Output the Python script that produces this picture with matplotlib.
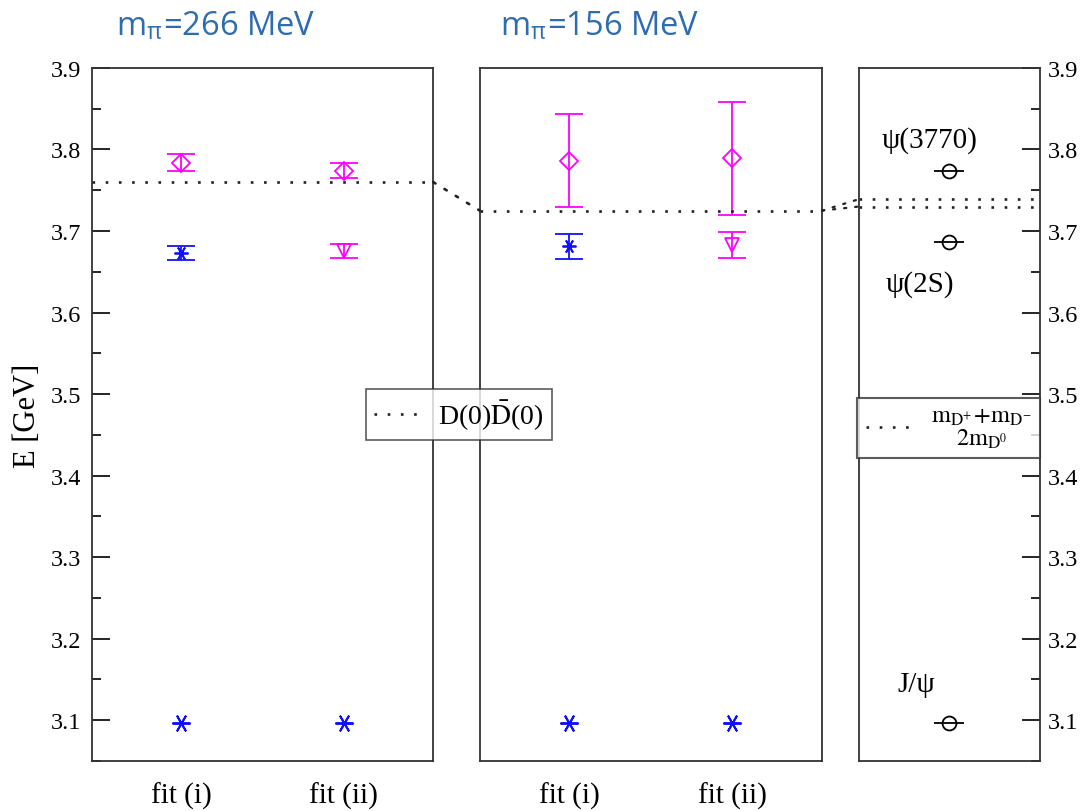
import matplotlib
matplotlib.use('Agg')
import matplotlib.pyplot as plt
from matplotlib.patches import ConnectionPatch
from matplotlib.lines import Line2D
from matplotlib.ticker import MultipleLocator

plt.rcParams['font.family'] = ['Liberation Serif', 'DejaVu Serif']
plt.rcParams['mathtext.fontset'] = 'stix'

# data (GeV)
fits = ['fit (i)', 'fit (ii)']
xpos = [1, 2]

# m_pi = 266 MeV
diam_266 = [3.784, 3.774]
diam_266_err = [0.010, 0.0095]
xmark_266 = 3.673          # fit (i) only
xmark_266_err = 0.0085
tri_266 = 3.676            # fit (ii) only
tri_266_err = 0.0085
jpsi_266 = [3.097, 3.097]
thr_266 = 3.760

# m_pi = 156 MeV
diam_156 = [3.786, 3.789]
diam_156_err = [0.057, 0.069]
xmark_156 = 3.681
xmark_156_err = 0.015
tri_156 = 3.683
tri_156_err = 0.016
jpsi_156 = [3.097, 3.097]
thr_156 = 3.725

# experiment
exp_names = ['J/\u03c8', '\u03c8(2S)', '\u03c8(3770)']
exp_mass = [3.097, 3.686, 3.773]
exp_label_x = [0.32, 0.34, 0.39]
exp_label_y = [3.145, 3.635, 3.812]
exp_thr = [3.739, 3.730]

MAG = '#ff00ff'
BLUE = '#1010ff'
DOT = (0, (1, 4))
DOTC = '#222222'

fig = plt.figure(figsize=(10.83, 8.12), dpi=100)
bot, hgt = 0.0616, 0.8535
ax1 = fig.add_axes([0.085, bot, 0.315, hgt])
ax2 = fig.add_axes([0.443, bot, 0.316, hgt])
ax3 = fig.add_axes([0.793, bot, 0.167, hgt])

ylim = (3.05, 3.9)
star = (6, 2, 90)


def lattice_panel(ax, diam, diam_err, xm, xm_err, tri, tri_err, jpsi, thr):
    eb = dict(capsize=10, elinewidth=1.3, capthick=1.3, linestyle='none')
    ax.errorbar(xpos, diam, yerr=diam_err, marker='D', ms=9, mfc='none',
                mec=MAG, mew=1.3, color=MAG, **eb)
    ax.errorbar([xpos[0]], [xm], yerr=[xm_err], marker=star, ms=10,
                mew=1.3, color=BLUE, **eb)
    ax.errorbar([xpos[1]], [tri], yerr=[tri_err], marker='v', ms=10, mfc='none',
                mec=MAG, mew=1.3, color=MAG, **eb)
    ax.plot(xpos, jpsi, linestyle='none', marker=star, ms=13, mew=1.4, color=BLUE)
    ax.axhline(thr, color=DOTC, lw=1.9, linestyle=DOT)
    ax.set_xlim(0.45, 2.55)
    ax.set_ylim(*ylim)
    ax.set_xticks(xpos)
    ax.set_xticklabels(fits, fontsize=21)
    ax.tick_params(axis='x', length=0, pad=15)
    ax.tick_params(axis='y', left=False, labelleft=False)
    for s in ax.spines.values():
        s.set_linewidth(1.3)
        s.set_color('#333333')


lattice_panel(ax1, diam_266, diam_266_err, xmark_266, xmark_266_err,
              tri_266, tri_266_err, jpsi_266, thr_266)
lattice_panel(ax2, diam_156, diam_156_err, xmark_156, xmark_156_err,
              tri_156, tri_156_err, jpsi_156, thr_156)

# left axis on panel 1
ax1.yaxis.set_major_locator(MultipleLocator(0.1))
ax1.yaxis.set_minor_locator(MultipleLocator(0.05))
ax1.tick_params(axis='y', which='both', left=True, labelleft=True,
                direction='in', labelsize=17.5, pad=8, width=1.2)
ax1.tick_params(axis='y', which='major', length=13)
ax1.tick_params(axis='y', which='minor', length=6.5)
ax1.set_ylabel('E [GeV]', fontsize=22, labelpad=6)

# experimental panel
ax3.set_xlim(0, 1)
ax3.set_ylim(*ylim)
ax3.plot([0.5] * len(exp_mass), exp_mass, linestyle='none', marker='o', ms=10,
         mfc='none', mec='black', mew=1.3)
ax3.plot([0.5] * len(exp_mass), exp_mass, linestyle='none', marker='_', ms=21,
         mew=1.3, color='black')
for name, lx, ly in zip(exp_names, exp_label_x, exp_label_y):
    ax3.text(lx, ly, name, fontsize=21, ha='center', va='center')
for y in exp_thr:
    ax3.axhline(y, color=DOTC, lw=1.9, linestyle=DOT)
ax3.set_xticks([])
ax3.yaxis.set_major_locator(MultipleLocator(0.1))
ax3.yaxis.set_minor_locator(MultipleLocator(0.05))
ax3.tick_params(axis='y', which='both', left=False, labelleft=False,
                right=True, labelright=True, direction='in',
                labelsize=17.5, pad=6, width=1.2)
ax3.tick_params(axis='y', which='major', length=13)
ax3.tick_params(axis='y', which='minor', length=6.5)
for s in ax3.spines.values():
    s.set_linewidth(1.3)
    s.set_color('#333333')

# dotted connectors between the panels
con1 = ConnectionPatch(xyA=(2.55, thr_266), coordsA=ax1.transData,
                       xyB=(0.45, thr_156), coordsB=ax2.transData,
                       color=DOTC, lw=1.9, linestyle=DOT)
fig.add_artist(con1)
for y in exp_thr:
    con = ConnectionPatch(xyA=(2.55, thr_156), coordsA=ax2.transData,
                          xyB=(0.0, y), coordsB=ax3.transData,
                          color=DOTC, lw=1.6, linestyle=DOT)
    fig.add_artist(con)

# legends
h = Line2D([], [], color=DOTC, lw=1.9, linestyle=DOT)
leg1 = fig.legend([h], [r'D(0)$\mathrm{\bar{D}}$(0)'], loc='center',
                  bbox_to_anchor=(0.424, 0.488), fontsize=20, frameon=True,
                  fancybox=False, edgecolor='#333333', handlelength=1.6,
                  borderpad=0.3, handletextpad=0.7, borderaxespad=0)
leg1.get_frame().set_linewidth(1.2)
leg2 = fig.legend([h], ['$\\mathrm{m_{D^{+}}\\!+\\!m_{D^{-}}}$\n$\\mathrm{2m_{D^{0}}}$'],
                  loc='center', bbox_to_anchor=(0.876, 0.4717), fontsize=17.5,
                  frameon=True, fancybox=False, edgecolor='#333333',
                  handlelength=1.9, borderpad=0.35, handletextpad=0.8,
                  borderaxespad=0)
leg2.get_frame().set_linewidth(1.5)
for t in leg2.get_texts():
    t.set_multialignment('center')
    t.set_linespacing(0.95)

# pion mass titles
tcol = '#2e6cb0'
fig.text(0.107, 0.956, 'm$_{\\mathregular{\u03c0}}$=266 MeV', color=tcol,
         fontsize=23.5, family='Open Sans', va='baseline')
fig.text(0.462, 0.956, 'm$_{\\mathregular{\u03c0}}$=156 MeV', color=tcol,
         fontsize=23.5, family='Open Sans', va='baseline')

fig.savefig('out.png', dpi=100)
